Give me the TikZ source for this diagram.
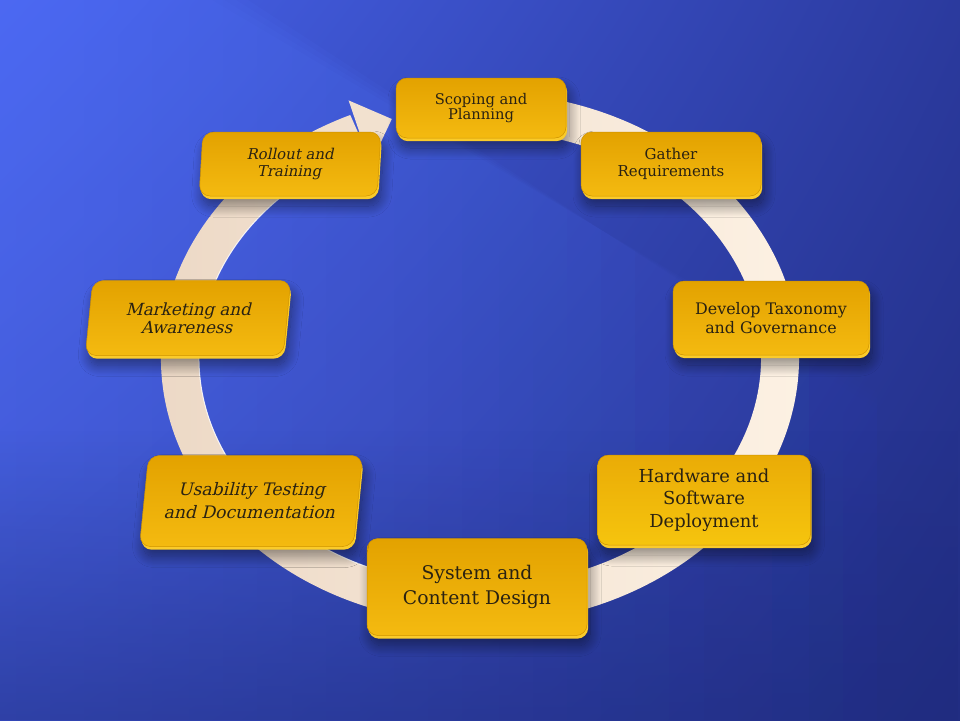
\documentclass[tikz,border=0pt]{standalone}
\usepackage{fontspec}
\setmainfont{DejaVu Serif}
\newfontfamily\slantfont[FakeSlant=0.15]{DejaVu Serif}
\usetikzlibrary{shadows.blur,calc,shadings,fadings}
\definecolor{bgUL}{HTML}{4864EE}
\definecolor{bgUR}{HTML}{2B3A9E}
\definecolor{bgLL}{HTML}{3346B4}
\definecolor{bgLR}{HTML}{212D82}
\definecolor{bgBright}{HTML}{5876FF}
\definecolor{bgDeep}{HTML}{1F2B7E}
\definecolor{ringR}{HTML}{FDF2E4}
\definecolor{ringL}{HTML}{ECD8C5}
\definecolor{faceTop}{HTML}{E3A200}
\definecolor{faceBot}{HTML}{F4BA10}
\definecolor{rimc}{HTML}{FACB2A}
\definecolor{edgec}{HTML}{CF9300}
\definecolor{txtc}{HTML}{2A2212}
\tikzfading[name=fadeR, left color=transparent!0, right color=transparent!100]
\tikzfading[name=fadeUp, top color=transparent!100, bottom color=transparent!0]
\tikzset{
  stagebox/.style={rectangle, rounded corners=11pt, align=center, inner sep=0pt, text=txtc,
    blur shadow={shadow xshift=3pt, shadow yshift=-10pt, shadow opacity=45, shadow blur radius=11pt, shadow blur steps=24},
    preaction={fill=rimc, transform canvas={xshift=1.2pt, yshift=-3.2pt}},
    top color=faceTop, bottom color=faceBot, draw=edgec, line width=0.5pt},
  fs/.style n args={2}{font={\fontsize{#1}{#2}\selectfont}},
  fss/.style n args={2}{font={\slantfont\fontsize{#1}{#2}\selectfont}}
}
\begin{document}
\begin{tikzpicture}[x=1pt,y=-1pt]
\useasboundingbox (0,0) rectangle (960,720);
% background
\shade[upper left=bgUL, upper right=bgUR, lower left=bgLL, lower right=bgLR] (0,0) rectangle (960,720);
\begin{scope}
  \clip (0,0) rectangle (960,720);
  \foreach \d in {0,12,24,36}{
    \fill[bgBright, opacity=0.11, path fading=fadeR] (0,-200) -- ({214+\d},0) -- (960,{440+\d*0.6}) -- (960,720) -- (0,720) -- cycle;
  }
  \fill[bgDeep, opacity=0.5, path fading=fadeUp] (0,430) rectangle (960,720);
\end{scope}
% ring
\shade[left color=ringL, right color=ringR]
  ({480+319*cos(-80)},{358+266*sin(-80)}) arc[start angle=-80, end angle=246, x radius=319, y radius=266]
  -- ({480+281*cos(246)},{358+228*sin(246)}) arc[start angle=246, end angle=-80, x radius=281, y radius=228] -- cycle;
\draw[white, opacity=0.85, line width=1pt]
  ({480+281*cos(100)},{358+228*sin(100)}) arc[start angle=100, end angle=235, x radius=281, y radius=228];
\coordinate (tip) at (391.8,119.0);
\coordinate (barbU) at (348.6,100.4);
\coordinate (barbL) at (370.4,164.4);
\fill[color=ringR!33!ringL] (barbU) -- (tip) -- (barbL) -- cycle;
% boxes
\node[stagebox, fs={14.7}{15.5}, minimum width=170, minimum height=60] (scope) at (481,108) {Scoping and\\Planning};
\node[stagebox, fs={15}{16.5}, minimum width=180, minimum height=64] (gather) at (671,164) {Gather\\Requirements};
\node[stagebox, fs={15.9}{18.5}, minimum width=196, minimum height=74] (tax) at (771,318) {Develop Taxonomy\\and Governance};
\node[stagebox, fs={17.9}{22.5}, minimum width=213, minimum height=90, top color=faceTop!60!faceBot, bottom color=faceBot!85!yellow] (hw) at (704,500) {Hardware and\\Software\\Deployment};
\node[stagebox, fs={18.8}{25}, minimum width=220, minimum height=97] (sys) at (477,587) {System and\\Content Design};
\begin{scope}[shift={(251,501)}]
\node[stagebox, fss={17.2}{23}, minimum width=214, minimum height=91, xslant=0.1, transform shape] (usab) at (0,0) {Usability Testing\\and Documentation};
\end{scope}
\begin{scope}[shift={(188,318)}]
\node[stagebox, fss={16.7}{18}, minimum width=198, minimum height=75, xslant=0.1, transform shape] (mkt) at (0,0) {Marketing and\\Awareness};
\end{scope}
\begin{scope}[shift={(290,164)}]
\node[stagebox, fss={14.9}{16.5}, minimum width=178, minimum height=64, xslant=0.06, transform shape] (roll) at (0,0) {Rollout and\\Training};
\end{scope}
\end{tikzpicture}
\end{document}
